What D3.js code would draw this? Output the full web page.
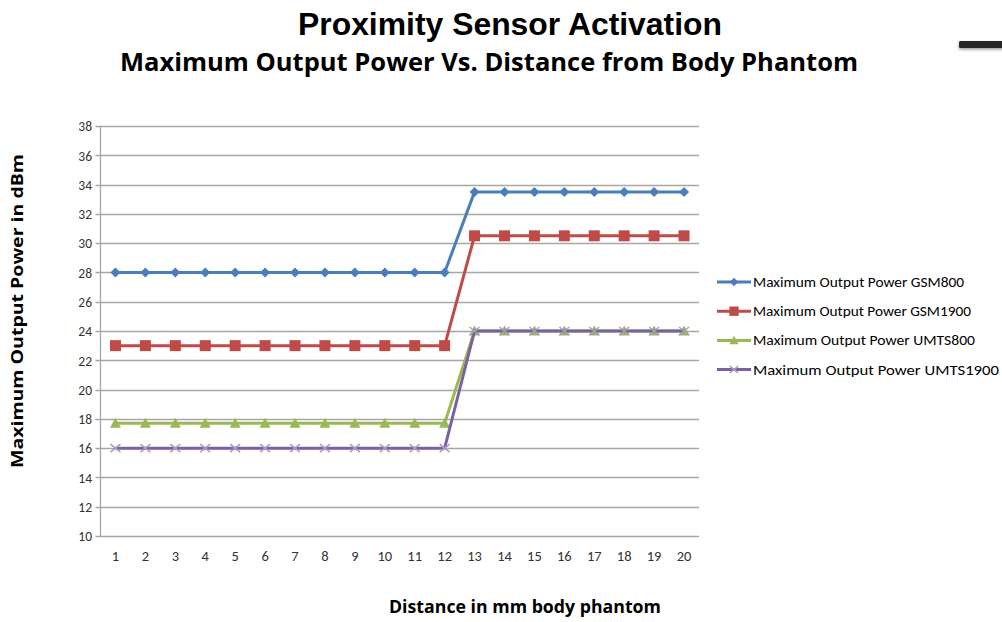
<!DOCTYPE html>
<html><head><meta charset="utf-8">
<script src="https://cdn.jsdelivr.net/npm/d3@7"></script>
<style>body{margin:0;background:#fff}svg{display:block}</style>
</head><body>
<svg id="c" width="1002" height="622"></svg>
<script>
const categories = d3.range(1, 21);
const gsm800   = [28,28,28,28,28,28,28,28,28,28,28,28,33.5,33.5,33.5,33.5,33.5,33.5,33.5,33.5];
const gsm1900  = [23,23,23,23,23,23,23,23,23,23,23,23,30.5,30.5,30.5,30.5,30.5,30.5,30.5,30.5];
const umts800  = [17.7,17.7,17.7,17.7,17.7,17.7,17.7,17.7,17.7,17.7,17.7,17.7,24,24,24,24,24,24,24,24];
const umts1900 = [16,16,16,16,16,16,16,16,16,16,16,16,24,24,24,24,24,24,24,24];
const seriesNames = ["Maximum Output Power GSM800","Maximum Output Power GSM1900","Maximum Output Power UMTS800","Maximum Output Power UMTS1900"];
const yTicks = d3.range(10, 39, 2);

const series = [
  {name: seriesNames[0], values: gsm800,   color: "#4A7EBB", marker: "diamond"},
  {name: seriesNames[1], values: gsm1900,  color: "#BE4B48", marker: "square"},
  {name: seriesNames[2], values: umts800,  color: "#98B954", marker: "triangle"},
  {name: seriesNames[3], values: umts1900, color: "#7D60A0", marker: "x"}
];

const svg = d3.select("#c");
const L = 100.5, R = 699, T = 126, B = 536;
const x = d3.scaleBand().domain(categories).range([L, R]);
const y = d3.scaleLinear().domain([10, 38]).range([B, T]);
const font = "Calibri, Carlito, 'Open Sans', 'Liberation Sans', sans-serif";

// titles
svg.append("text").attr("x", 510).attr("y", 35).attr("text-anchor", "middle")
  .attr("font-family", "'Liberation Sans', Arial, sans-serif").attr("font-weight", "bold")
  .attr("font-size", 31).attr("fill", "#000")
  .attr("textLength", 424).attr("lengthAdjust", "spacingAndGlyphs")
  .text("Proximity Sensor Activation");
svg.append("text").attr("x", 489).attr("y", 71).attr("text-anchor", "middle")
  .attr("font-family", "'Open Sans', sans-serif").attr("font-weight", "bold")
  .attr("font-size", 25).attr("fill", "#000")
  .attr("textLength", 738).attr("lengthAdjust", "spacingAndGlyphs")
  .text("Maximum Output Power Vs. Distance from Body Phantom");

// decoration top right
const defs = svg.append("defs");
const f = defs.append("filter").attr("id", "sh").attr("x", "-50%").attr("y", "-100%").attr("width", "200%").attr("height", "300%");
f.append("feDropShadow").attr("dx", 0).attr("dy", 1.5).attr("stdDeviation", 1.5).attr("flood-color", "#000").attr("flood-opacity", 0.4);
svg.append("rect").attr("x", 959).attr("y", 41).attr("width", 50).attr("height", 7).attr("rx", 1.5)
  .attr("fill", "#262626").attr("filter", "url(#sh)");

// gridlines
svg.append("g").selectAll("line").data(yTicks).join("line")
  .attr("x1", L - 5).attr("x2", R).attr("y1", d => Math.round(y(d)) + 0.5).attr("y2", d => Math.round(y(d)) + 0.5)
  .attr("stroke", "#a6a6a6").attr("stroke-width", 1.3);
// y axis line
svg.append("line").attr("x1", L).attr("x2", L).attr("y1", T).attr("y2", B + 0.5)
  .attr("stroke", "#a6a6a6").attr("stroke-width", 1.3);

// y axis labels
const yAxis = d3.axisLeft(y).tickValues(yTicks).tickSize(0).tickPadding(0);
const gy = svg.append("g").attr("transform", `translate(${L - 8.5},0)`).call(yAxis);
gy.select(".domain").remove();
gy.selectAll("text").attr("font-family", font).style("font-size", "13.5px").attr("fill", "#333").attr("dy", "0.35em");

// x axis labels
const xAxis = d3.axisBottom(x).tickSize(0).tickPadding(0);
const gx = svg.append("g").attr("transform", `translate(0,${B + 15})`).call(xAxis);
gx.select(".domain").remove();
gx.selectAll("text").attr("font-family", font).style("font-size", "14.5px").attr("fill", "#333").attr("dy", "0.71em");

// axis titles
svg.append("text").attr("transform", "translate(23,311) rotate(-90)").attr("text-anchor", "middle")
  .attr("font-family", "'Open Sans', sans-serif").attr("font-weight", "bold").attr("font-size", 16)
  .attr("textLength", 314).attr("lengthAdjust", "spacingAndGlyphs")
  .attr("fill", "#000").text("Maximum Output Power in dBm");
svg.append("text").attr("x", 525).attr("y", 613).attr("text-anchor", "middle")
  .attr("font-family", "'Open Sans', sans-serif").attr("font-weight", "bold").attr("font-size", 17)
  .attr("textLength", 272).attr("lengthAdjust", "spacingAndGlyphs")
  .attr("fill", "#000").text("Distance in mm body phantom");

// markers
function drawMarker(g, type, cx, cy, color, s = 1) {
  if (type === "diamond") {
    g.append("path").attr("d", `M${cx},${cy-5*s}L${cx+5*s},${cy}L${cx},${cy+5*s}L${cx-5*s},${cy}Z`).attr("fill", color);
  } else if (type === "square") {
    g.append("rect").attr("x", cx-5.5*s).attr("y", cy-5.5*s).attr("width", 11*s).attr("height", 11*s).attr("fill", color);
  } else if (type === "triangle") {
    g.append("path").attr("d", `M${cx},${cy-5.5*s}L${cx+5.5*s},${cy+4.5*s}L${cx-5.5*s},${cy+4.5*s}Z`).attr("fill", color);
  } else if (type === "x") {
    g.append("path").attr("d", `M${cx-5*s},${cy-4*s}L${cx+5*s},${cy+4*s}M${cx-5*s},${cy+4*s}L${cx+5*s},${cy-4*s}`)
      .attr("stroke", "#A99BC6").attr("stroke-width", 1.5).attr("fill", "none");
  }
}

const line = d3.line().x((d, i) => x(categories[i]) + x.bandwidth() / 2).y(d => y(d));
const plot = svg.append("g");
series.forEach(s => {
  plot.append("path").attr("d", line(s.values)).attr("fill", "none")
    .attr("stroke", s.color).attr("stroke-width", 3).attr("stroke-linejoin", "round");
  const mg = plot.append("g");
  s.values.forEach((v, i) => drawMarker(mg, s.marker, x(categories[i]) + x.bandwidth() / 2, y(v), s.color));
});

// legend
const lg = svg.append("g");
series.forEach((s, i) => {
  const ly = 282 + i * 29.2;
  lg.append("line").attr("x1", 717).attr("x2", 751).attr("y1", ly).attr("y2", ly)
    .attr("stroke", s.color).attr("stroke-width", 3);
  drawMarker(lg, s.marker, 734, ly, s.color, 0.85);
  lg.append("text").attr("x", 753).attr("y", ly).attr("dy", "0.35em")
    .attr("font-family", font).attr("font-size", 14).attr("fill", "#000")
    .attr("textLength", [211, 218, 222, 246][i]).attr("lengthAdjust", "spacingAndGlyphs")
    .text(s.name);
});
</script>
</body></html>
